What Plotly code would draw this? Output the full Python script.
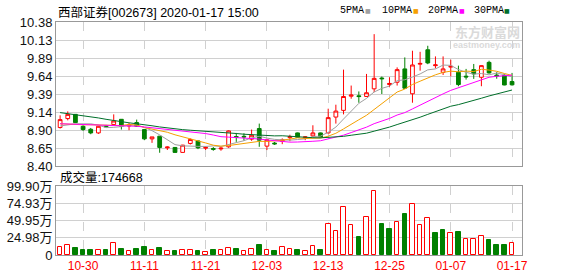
import plotly.graph_objects as go

# ---------------- data ----------------
dates = ["10-25", "10-28", "10-29", "10-30", "10-31", "11-01", "11-04", "11-05", "11-06", "11-07",
         "11-08", "11-11", "11-12", "11-13", "11-14", "11-15", "11-18", "11-19", "11-20", "11-21",
         "11-22", "11-25", "11-26", "11-27", "11-28", "11-29", "12-02", "12-03", "12-04", "12-05",
         "12-06", "12-09", "12-10", "12-11", "12-12", "12-13", "12-16", "12-17", "12-18", "12-19",
         "12-20", "12-23", "12-24", "12-25", "12-26", "12-27", "12-30", "12-31", "01-02", "01-03",
         "01-06", "01-07", "01-08", "01-09", "01-10", "01-13", "01-14", "01-15", "01-16", "01-17"]

open_ = [8.929, 9.052, 9.110, 8.946, 8.905, 8.855, 8.950, 8.970, 9.042, 8.950,
         8.997, 8.901, 8.773, 8.810, 8.650, 8.655, 8.587, 8.710, 8.745, 8.645,
         8.640, 8.635, 8.664, 8.805, 8.808, 8.769, 8.915, 8.673, 8.715, 8.740,
         8.790, 8.855, 8.790, 8.814, 8.855, 8.855, 9.073, 9.165, 9.360, 9.365,
         9.356, 9.461, 9.610, 9.520, 9.552, 9.735, 9.393, 9.800, 9.998, 9.780,
         9.688, 9.760, 9.688, 9.635, 9.725, 9.620, 9.825, 9.650, 9.643, 9.561]
high = [9.097, 9.151, 9.115, 8.960, 8.923, 8.950, 8.965, 9.110, 9.045, 8.990,
        9.038, 8.910, 8.800, 8.810, 8.670, 8.660, 8.690, 8.778, 8.750, 8.670,
        8.660, 8.660, 8.890, 8.855, 8.850, 8.901, 8.983, 8.765, 8.730, 8.780,
        8.830, 8.860, 8.810, 8.960, 8.860, 9.188, 9.243, 9.725, 9.506, 9.425,
        9.666, 10.213, 9.630, 9.620, 9.756, 9.893, 9.985, 9.970, 10.053, 9.907,
        9.907, 9.862, 9.780, 9.735, 9.803, 9.785, 9.848, 9.690, 9.666, 9.680]
low = [8.915, 9.028, 8.990, 8.882, 8.837, 8.841, 8.930, 8.956, 8.901, 8.892,
       8.940, 8.755, 8.718, 8.582, 8.620, 8.585, 8.585, 8.696, 8.632, 8.620,
       8.610, 8.610, 8.650, 8.732, 8.750, 8.746, 8.664, 8.619, 8.690, 8.700,
       8.740, 8.790, 8.755, 8.800, 8.790, 8.850, 8.983, 9.110, 9.325, 9.270,
       9.350, 9.415, 9.390, 9.483, 9.506, 9.460, 9.270, 9.711, 9.800, 9.743,
       9.652, 9.633, 9.497, 9.588, 9.598, 9.497, 9.670, 9.600, 9.510, 9.506]
close = [9.038, 9.110, 8.997, 8.901, 8.855, 8.946, 8.940, 9.019, 8.946, 8.964,
         8.946, 8.773, 8.800, 8.655, 8.660, 8.587, 8.687, 8.765, 8.650, 8.655,
         8.630, 8.645, 8.882, 8.795, 8.800, 8.823, 8.755, 8.760, 8.705, 8.760,
         8.805, 8.795, 8.800, 8.855, 8.800, 9.065, 9.155, 9.356, 9.375, 9.355,
         9.407, 9.605, 9.600, 9.535, 9.725, 9.470, 9.789, 9.810, 9.817, 9.790,
         9.735, 9.770, 9.520, 9.625, 9.666, 9.780, 9.680, 9.640, 9.514, 9.516]

ma5 = [8.950, 8.970, 8.980, 8.980, 8.980, 8.962, 8.928, 8.932, 8.941, 8.963,
       8.963, 8.930, 8.886, 8.828, 8.766, 8.694, 8.677, 8.670, 8.670, 8.669,
       8.677, 8.669, 8.692, 8.720, 8.748, 8.787, 8.809, 8.784, 8.766, 8.760,
       8.755, 8.764, 8.773, 8.803, 8.811, 8.864, 8.935, 9.046, 9.150, 9.261,
       9.330, 9.418, 9.467, 9.499, 9.573, 9.586, 9.624, 9.666, 9.722, 9.735,
       9.788, 9.784, 9.726, 9.688, 9.663, 9.672, 9.654, 9.678, 9.656, 9.626]
ma10 = [8.981, 8.974, 8.967, 8.967, 8.967, 8.963, 8.960, 8.957, 8.956, 8.972,
        8.962, 8.929, 8.909, 8.884, 8.864, 8.829, 8.803, 8.778, 8.749, 8.717,
        8.686, 8.673, 8.681, 8.695, 8.709, 8.732, 8.739, 8.738, 8.743, 8.754,
        8.771, 8.787, 8.778, 8.784, 8.785, 8.810, 8.850, 8.910, 8.977, 9.036,
        9.097, 9.177, 9.257, 9.325, 9.417, 9.458, 9.521, 9.566, 9.611, 9.654,
        9.687, 9.704, 9.696, 9.705, 9.699, 9.730, 9.719, 9.702, 9.672, 9.645]
ma20 = [8.981, 8.978, 8.974, 8.971, 8.968, 8.966, 8.963, 8.960, 8.956, 8.952,
        8.946, 8.937, 8.926, 8.915, 8.901, 8.889, 8.878, 8.867, 8.855, 8.846,
        8.826, 8.803, 8.797, 8.792, 8.789, 8.782, 8.771, 8.758, 8.746, 8.736,
        8.728, 8.730, 8.730, 8.740, 8.747, 8.771, 8.794, 8.824, 8.860, 8.895,
        8.934, 8.982, 9.017, 9.054, 9.101, 9.134, 9.185, 9.238, 9.294, 9.345,
        9.392, 9.440, 9.476, 9.515, 9.558, 9.594, 9.620, 9.634, 9.641, 9.649]
ma30 = [9.134, 9.121, 9.110, 9.097, 9.079, 9.061, 9.042, 9.024, 9.008, 8.994,
        8.981, 8.970, 8.953, 8.937, 8.922, 8.910, 8.900, 8.892, 8.886, 8.881,
        8.875, 8.869, 8.858, 8.847, 8.837, 8.829, 8.823, 8.819, 8.814, 8.816,
        8.808, 8.797, 8.791, 8.789, 8.787, 8.791, 8.797, 8.808, 8.823, 8.836,
        8.851, 8.879, 8.905, 8.935, 8.970, 9.000, 9.037, 9.071, 9.110, 9.148,
        9.185, 9.222, 9.244, 9.271, 9.301, 9.332, 9.363, 9.393, 9.420, 9.445]

# volume in 万 (10k) ; 1 = up day (red hollow), 0 = down day (green filled)
volume = [11.1, 14.0, 10.1, 7.2, 7.2, 7.2, 7.2, 16.9, 8.7, 5.3,
          8.2, 11.6, 7.2, 10.1, 5.3, 6.3, 7.2, 7.2, 6.3, 4.3,
          7.2, 7.2, 10.1, 8.7, 5.8, 8.7, 14.5, 7.2, 5.8, 11.1,
          8.7, 7.2, 5.3, 12.6, 7.2, 44.9, 34.2, 69.0, 43.0, 26.1,
          54.5, 92.2, 44.9, 37.6, 47.3, 59.4, 73.8, 43.4, 53.1, 32.3,
          36.2, 31.4, 33.3, 22.7, 22.7, 27.1, 21.7, 14.5, 14.5, 17.4668]
vol_up = [1, 1, 0, 0, 0, 1, 0, 1, 0, 1,
          0, 0, 1, 0, 1, 0, 1, 1, 0, 1,
          0, 1, 1, 0, 1, 1, 0, 1, 0, 1,
          1, 0, 1, 1, 0, 1, 1, 1, 1, 0,
          1, 1, 0, 0, 1, 0, 1, 1, 1, 0,
          0, 1, 0, 1, 1, 1, 0, 0, 0, 1]

tick_dates = ["10-30", "11-11", "11-21", "12-03", "12-13", "12-25", "01-07", "01-17"]
price_ticks = [8.40, 8.6475, 8.895, 9.1425, 9.39, 9.6375, 9.885, 10.1325, 10.38]
price_labels = ["8.40", "8.65", "8.90", "9.14", "9.39", "9.64", "9.89", "10.13", "10.38"]
vol_ticks = [0, 24.975, 49.95, 74.925, 99.9]
vol_labels = ["0", "24.98万", "49.95万", "74.93万", "99.90万"]
ma_names = ["5PMA", "10PMA", "20PMA", "30PMA"]
ma_colors = ["#a0a0a0", "#f5a000", "#ff00ff", "#006f2a"]
title_text = "西部证券[002673] 2020-01-17 15:00"
vol_title = "成交量:174668"

# ---------------- figure ----------------
RED = "#ff0000"
GREEN = "#008000"
GRID = "#d0d0d0"
FRAME = "#999999"
idx = list(range(len(dates)))
tick_idx = [dates.index(d) for d in tick_dates]
FONT = "Liberation Sans, Arial, Noto Sans CJK SC, sans-serif"
MONO = "Liberation Mono, DejaVu Sans Mono, monospace"

W, H = 578, 276
ML, MR, MT, MB = 56, 56, 22, 21
PW, PH = W - ML - MR, H - MT - MB


def px_x(px):
    return (px - ML) / PW


def px_y(py):
    return (H - MB - py) / PH


fig = go.Figure()
fig.add_trace(go.Candlestick(
    x=idx, open=open_, high=high, low=low, close=close,
    xaxis="x", yaxis="y",
    increasing=dict(line=dict(color=RED, width=1), fillcolor="#ffffff"),
    decreasing=dict(line=dict(color=GREEN, width=1), fillcolor=GREEN),
    whiskerwidth=0, showlegend=False, hoverinfo="skip"))

for name, series, col in zip(ma_names, [ma5, ma10, ma20, ma30], ma_colors):
    fig.add_trace(go.Scatter(x=idx, y=series, mode="lines", name=name,
                             line=dict(color=col, width=1), xaxis="x", yaxis="y",
                             showlegend=False, hoverinfo="skip"))

fig.add_trace(go.Bar(
    x=idx, y=volume, xaxis="x2", yaxis="y2", width=0.6,
    marker=dict(color=["#ffffff" if u else GREEN for u in vol_up],
                line=dict(color=[RED if u else GREEN for u in vol_up], width=1)),
    showlegend=False, hoverinfo="skip"))

xr = [-0.535, 60.3]
common_x = dict(range=xr, tickmode="array", tickvals=tick_idx, showgrid=True,
                gridcolor=GRID, griddash="dash", gridwidth=1, zeroline=False,
                showline=True, linecolor=FRAME, linewidth=1, mirror=True, ticks="",
                automargin=False)
fig.update_layout(
    width=W, height=H,
    margin=dict(l=ML, r=MR, t=MT, b=MB, pad=0),
    paper_bgcolor="#ffffff", plot_bgcolor="#ffffff",
    hovermode=False, showlegend=False, bargap=0,
    xaxis=dict(domain=[0, 1], anchor="y", showticklabels=False,
               rangeslider=dict(visible=False), **common_x),
    xaxis2=dict(domain=[0, 1], anchor="y2", showticklabels=True,
                ticktext=tick_dates,
                tickfont=dict(family=FONT, size=12, color=RED), **common_x),
    yaxis=dict(domain=[px_y(166), 1], anchor="x", range=[8.40, 10.38],
               tickmode="array", tickvals=price_ticks, ticktext=price_labels,
               showgrid=True, gridcolor=GRID, zeroline=False, showline=True,
               linecolor=FRAME, mirror=True, ticks="", automargin=False,
               tickfont=dict(family=FONT, size=13, color="#111111")),
    yaxis2=dict(domain=[0, px_y(186)], anchor="x2", range=[0, 99.9],
                tickmode="array", tickvals=vol_ticks, ticktext=vol_labels,
                showgrid=True, gridcolor=GRID, zeroline=False, showline=True,
                linecolor=FRAME, mirror=True, ticks="", automargin=False,
                tickfont=dict(family=FONT, size=13, color="#111111")),
)

ann = []
ann.append(dict(text=title_text, xref="paper", yref="paper", x=0, y=px_y(12),
                xanchor="left", yanchor="middle", showarrow=False,
                font=dict(family=FONT, size=12.5, color="#000000")))
ann.append(dict(text=vol_title, xref="paper", yref="paper", x=px_x(58), y=px_y(177),
                xanchor="left", yanchor="middle", showarrow=False,
                font=dict(family=FONT, size=12.5, color="#000000")))
leg_text_x = [338, 380, 426, 472]
leg_sq_x = [368, 416, 462, 507]
for name, col, tx, sx in zip(ma_names, ma_colors, leg_text_x, leg_sq_x):
    ann.append(dict(text=name, xref="paper", yref="paper", x=px_x(tx), y=px_y(10),
                    xanchor="left", yanchor="middle", showarrow=False,
                    font=dict(family=MONO, size=10, color="#000000")))
    ann.append(dict(text="■", xref="paper", yref="paper", x=px_x(sx), y=px_y(10),
                    xanchor="center", yanchor="middle", showarrow=False,
                    font=dict(family="DejaVu Sans", size=6, color=col)))
ann.append(dict(text="<b>东方财富网</b>", xref="paper", yref="paper",
                x=1, y=px_y(31), xanchor="right", yanchor="middle",
                showarrow=False, font=dict(family="Noto Sans CJK SC", size=13, color="#dadada")))
ann.append(dict(text="<b>eastmoney.com</b>", xref="paper", yref="paper",
                x=1, y=px_y(45), xanchor="right", yanchor="middle",
                showarrow=False, font=dict(family=FONT, size=9, color="#dadada")))
fig.update_layout(annotations=ann)

fig.write_html("out.html")
